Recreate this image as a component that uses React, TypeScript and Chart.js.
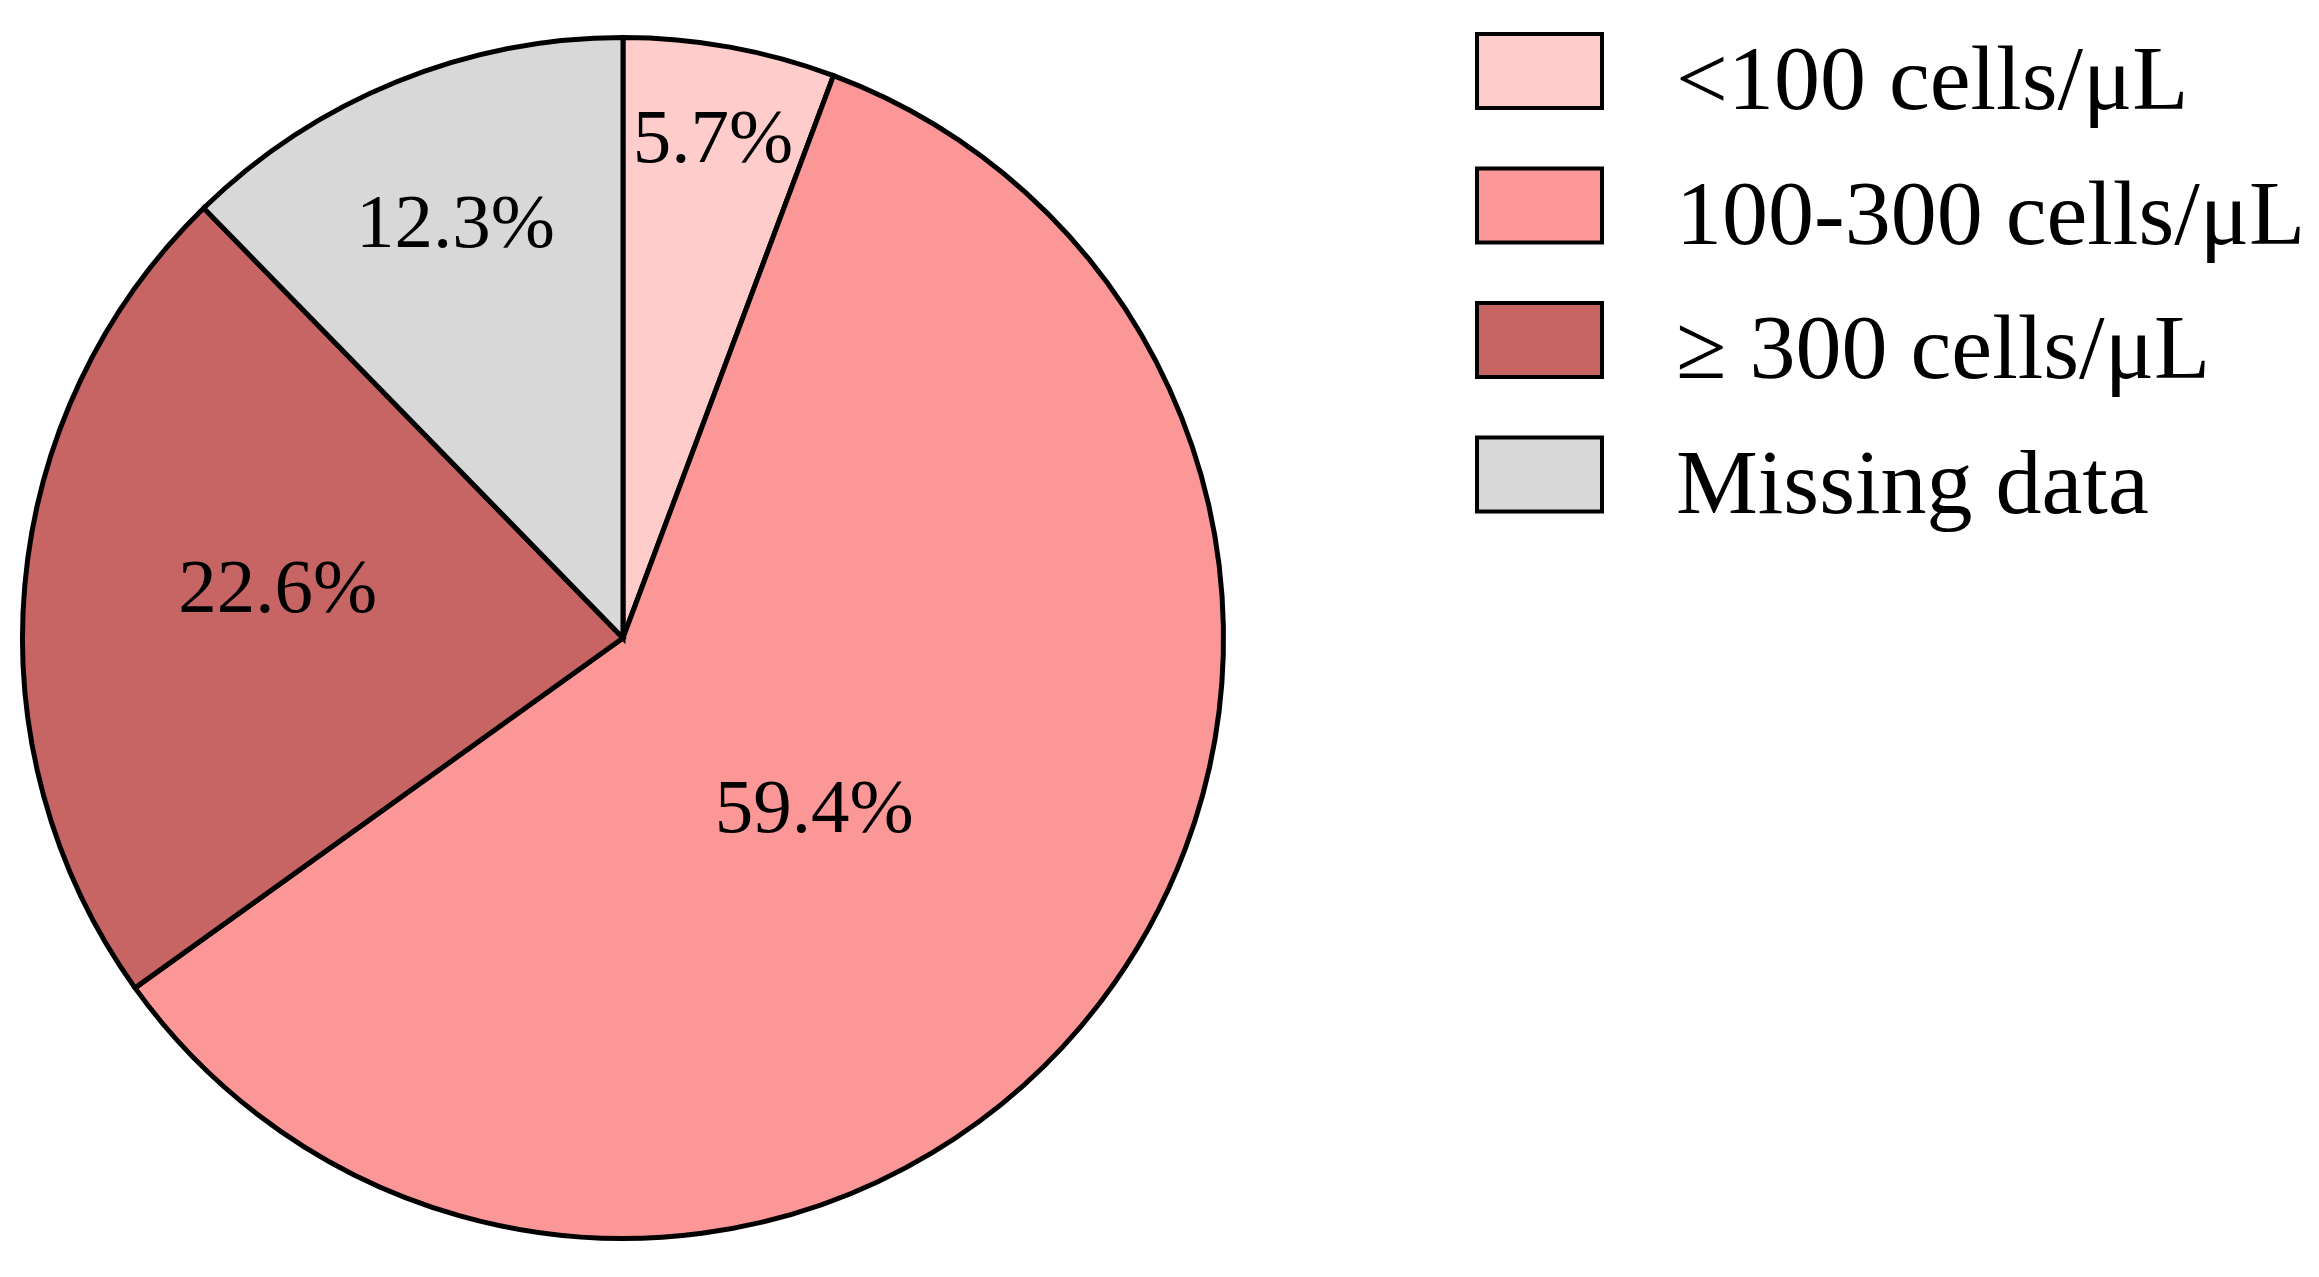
import React, { useEffect, useRef } from "react";
import { Chart, registerables } from "chart.js";

Chart.register(...registerables);

const categories = ["<100 cells/μL", "100-300 cells/μL", "≥ 300 cells/μL", "Missing data"];
const percentages = [5.7, 59.4, 22.6, 12.3];
const colors = ["#FFCCCC", "#FC9797", "#C76565", "#D8D8D8"];

// styling for label placement (fractions of radius, small angle nudges in degrees)
const labelRadiusFrac = [0.84, 0.43, 0.58, 0.74];
const labelAngleNudge = [0, 4.8, 2.6, 0];

const W = 2319;
const H = 1277;

const labelPlugin = {
  id: "sliceLabels",
  afterDatasetsDraw(chart: any) {
    const ctx = chart.ctx;
    const meta = chart.getDatasetMeta(0);
    ctx.save();
    ctx.fillStyle = "#000";
    ctx.font = '77px "Liberation Serif", "Times New Roman", serif';
    ctx.textAlign = "center";
    ctx.textBaseline = "middle";
    meta.data.forEach((arc: any, i: number) => {
      const p = arc.getProps(["x", "y", "startAngle", "endAngle", "outerRadius"], true);
      const mid = (p.startAngle + p.endAngle) / 2 + (labelAngleNudge[i] * Math.PI) / 180;
      const r = p.outerRadius * labelRadiusFrac[i];
      const x = p.x + Math.cos(mid) * r;
      const y = p.y + Math.sin(mid) * r;
      ctx.fillText(percentages[i].toFixed(1) + "%", x, y);
    });
    ctx.restore();
  },
};

const legendPlugin = {
  id: "customLegend",
  afterDraw(chart: any) {
    const ctx = chart.ctx;
    ctx.save();
    const lw = 4;
    const boxX = 1475;
    const boxW = 129;
    const boxH = 78;
    const top0 = 32;
    const step = 134.5;
    const textX = 1676;
    categories.forEach((label, i) => {
      const top = top0 + i * step;
      ctx.fillStyle = colors[i];
      ctx.fillRect(boxX + lw / 2, top + lw / 2, boxW - lw, boxH - lw);
      ctx.lineWidth = lw;
      ctx.strokeStyle = "#000";
      ctx.strokeRect(boxX + lw / 2, top + lw / 2, boxW - lw, boxH - lw);
      ctx.fillStyle = "#000";
      ctx.font = '92px "Liberation Serif", "Times New Roman", serif';
      ctx.textAlign = "left";
      ctx.textBaseline = "alphabetic";
      ctx.fillText(label, textX, top + 77);
    });
    ctx.restore();
  },
};

export default function App() {
  const ref = useRef<HTMLCanvasElement>(null);
  useEffect(() => {
    document.body.style.margin = "0";
    document.body.style.background = "#fff";
    if (!ref.current) return;
    const chart = new Chart(ref.current, {
      type: "pie",
      data: {
        labels: categories,
        datasets: [
          {
            data: percentages,
            backgroundColor: colors,
            borderColor: "#000",
            borderWidth: 5,
            borderJoinStyle: "miter",
          } as any,
        ],
      },
      options: {
        responsive: false,
        animation: false,
        layout: { padding: { left: 20, top: 35, right: W - 20 - 1206, bottom: H - 35 - 1206 } },
        plugins: {
          legend: { display: false },
          tooltip: { enabled: false },
        },
      },
      plugins: [labelPlugin, legendPlugin],
    });
    return () => chart.destroy();
  }, []);
  return (
    <div style={{ width: W, height: H, background: "#fff" }}>
      <canvas ref={ref} width={W} height={H} style={{ display: "block", width: W, height: H }} />
    </div>
  );
}
